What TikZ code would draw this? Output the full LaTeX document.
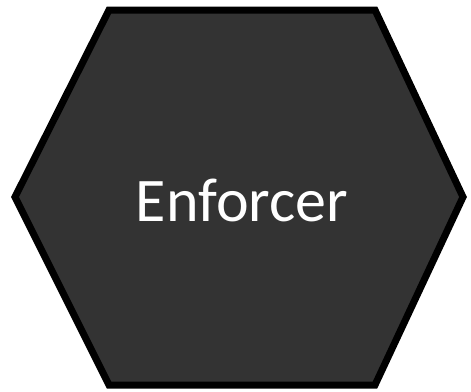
\documentclass[tikz,border=0pt]{standalone}
\usepackage{fontspec}
\setmainfont{Carlito}
\definecolor{hexfill}{HTML}{333333}
\tikzset{
  hexshape/.style={fill=hexfill, draw=black, line width=7pt, line join=miter},
  hexlabel/.style={text=white, font=\fontsize{62}{66}\selectfont, inner sep=0pt, anchor=base}
}
\begin{document}
\begin{tikzpicture}[x=1pt,y=-1pt]
\useasboundingbox (0,0) rectangle (471,391);
\draw[hexshape] (109,10) -- (375,10) -- (463,197) -- (375,385) -- (109,385) -- (15,197) -- cycle;
\node[hexlabel] (lbl) at (242,221) {Enforcer};
\end{tikzpicture}
\end{document}
